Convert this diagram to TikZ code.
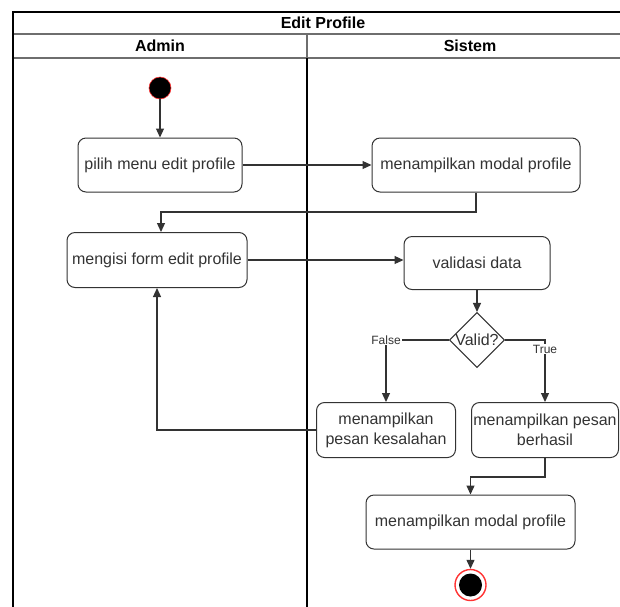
\documentclass[tikz,border=0pt]{standalone}
\usepackage{fontspec}
\setmainfont{Liberation Sans}
\usetikzlibrary{arrows.meta,shapes.geometric}
\definecolor{ink}{HTML}{333333}
\definecolor{rule}{HTML}{6E6E6E}
\definecolor{ring}{HTML}{FF3333}

\begin{document}
\begin{tikzpicture}[x=1pt,y=-1pt,
  act/.style={draw=ink, line width=1pt, rounded corners=8pt, fill=white,
    text=ink, font=\fontsize{16}{20}\selectfont, align=center, inner sep=0pt},
  decide/.style={diamond, draw=ink, line width=1pt, fill=white, text=ink,
    font=\fontsize{16}{20}\selectfont, inner sep=0pt, aspect=1},
  flow/.style={draw=ink, line width=1.2pt, -{Triangle[length=9pt,width=8pt]}},
  guard/.style={fill=white, text=ink, font=\fontsize{12}{14}\selectfont, inner sep=1pt},
  head/.style={font=\fontsize{16}{20}\selectfont\bfseries, text=black, inner sep=0pt},
]
\useasboundingbox (0,0) rectangle (620,606);

% swimlane frame
\draw[rule, line width=1.4pt] (13,34) -- (640,34);
\draw[rule, line width=1.4pt] (13,58) -- (640,58);
\draw[rule, line width=1.2pt] (307,34) -- (307,58);
\draw[black, line width=2pt] (307,58) -- (307,612);
\draw[black, line width=1.6pt] (13,612) -- (13,12) -- (640,12);

\node[head] (title) at (323,23) {Edit Profile};
\node[head] (laneA) at (160,46) {Admin};
\node[head] (laneS) at (470,46) {Sistem};

% start and end states
\node[circle, fill=black, draw=ring, line width=0.6pt, minimum size=22pt, inner sep=0pt] (start) at (160,88) {};
\node[circle, fill=white, draw=ring, line width=1.4pt, minimum size=31pt, inner sep=0pt] (end) at (470.5,585) {};
\node[circle, fill=black, minimum size=23pt, inner sep=0pt] (endcore) at (470.5,585) {};

% actions
\node[act, minimum width=164pt, minimum height=54pt] (pilih) at (160,165) {pilih menu edit profile};
\node[act, minimum width=208pt, minimum height=54pt] (modal1) at (476,165) {menampilkan modal profile};
\node[act, minimum width=180pt, minimum height=55pt] (mengisi) at (157,260) {mengisi form edit profile};
\node[act, minimum width=146pt, minimum height=53pt] (validasi) at (477,263) {validasi data};
\node[decide, minimum width=46pt, minimum height=45pt] (valid) at (477,340) {Valid?};
\node[act, minimum width=139pt, minimum height=55pt] (salah) at (386,430) {menampilkan\\pesan kesalahan};
\node[act, minimum width=147pt, minimum height=55pt] (berhasil) at (545,430) {menampilkan pesan\\berhasil};
\node[act, minimum width=209pt, minimum height=54pt] (modal2) at (470.5,522) {menampilkan modal profile};

\coordinate (turn1) at (161,212);
\coordinate (turn2) at (470.5,477);

% control flow
\draw[flow] (start) -- (pilih);
\draw[flow] (pilih.east) -- (modal1.west);
\draw[flow] (modal1.south) |- (turn1) -- (turn1 |- mengisi.north);
\draw[flow] (mengisi.east) -- (mengisi.east -| validasi.west);
\draw[flow] (validasi) -- (valid);
\draw[flow] (valid.west) -| (salah.north) node[guard, pos=0.5] (lf) {False};
\draw[flow] (valid.east) -| (berhasil.north) node[guard, pos=0.5, yshift=-9pt] (lt) {True};
\draw[flow] (salah.west) -| (mengisi.south);
\draw[flow] (berhasil.south) |- (turn2) -- (modal2.north);
\draw[flow] (modal2.south) -- (end.north);
\end{tikzpicture}
\end{document}
